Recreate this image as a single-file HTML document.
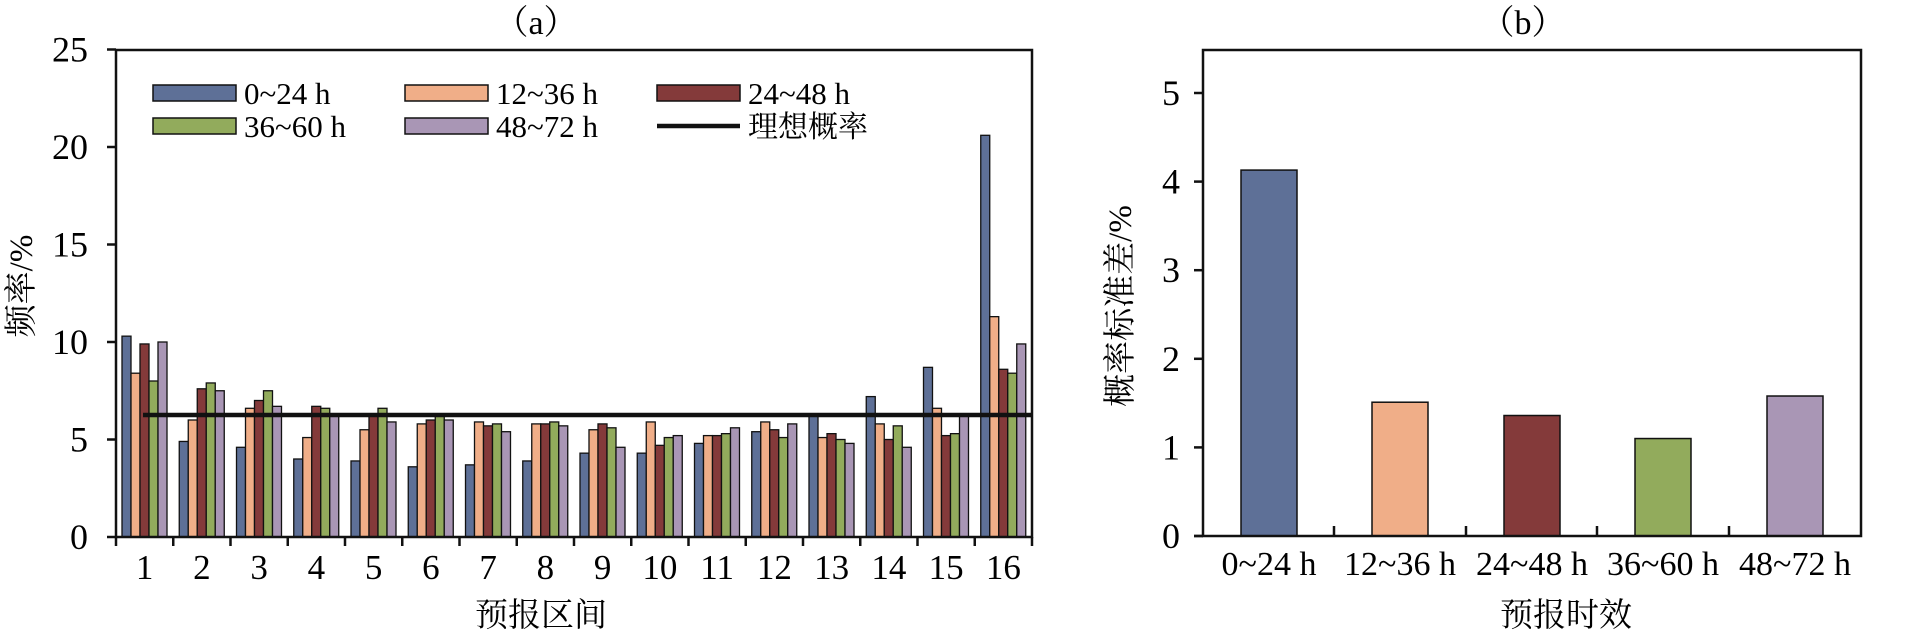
<!DOCTYPE html>
<html><head><meta charset="utf-8"><style>
html,body{margin:0;padding:0;background:#fff;}
svg{display:block;font-family:"Liberation Serif","Noto Serif CJK SC",serif;}
</style></head><body>
<svg width="1907" height="632" viewBox="0 0 1907 632" xmlns="http://www.w3.org/2000/svg">
<g id="a"></g>
<script>
(function(){
var NS="http://www.w3.org/2000/svg";var g=document.getElementById('a');
function el(t,a,txt){var e=document.createElementNS(NS,t);for(var k in a)e.setAttribute(k,a[k]);if(txt!==undefined)e.textContent=txt;g.appendChild(e);return e;}
var C=["#5e7097","#f0ae88","#843a3a","#92ab5c","#a996b5"];
var D=[[10.3,8.4,9.9,8.0,10.0],[4.9,6.0,7.6,7.9,7.5],[4.6,6.6,7.0,7.5,6.7],[4.0,5.1,6.7,6.6,6.3],[3.9,5.5,6.3,6.6,5.9],[3.6,5.8,6.0,6.2,6.0],[3.7,5.9,5.7,5.8,5.4],[3.9,5.8,5.8,5.9,5.7],[4.3,5.5,5.8,5.6,4.6],[4.3,5.9,4.7,5.1,5.2],[4.8,5.2,5.2,5.3,5.6],[5.4,5.9,5.5,5.1,5.8],[6.3,5.1,5.3,5.0,4.8],[7.2,5.8,5.0,5.7,4.6],[8.7,6.6,5.2,5.3,6.2],[20.6,11.3,8.6,8.4,9.9]];
var L=116,R=1032,B=537,T=50,ppu=19.5,gw=(R-L)/16;
for(var i=0;i<16;i++){for(var j=0;j<5;j++){var v=D[i][j];var x=L+i*gw+6+j*9;el('rect',{x:x,y:B-v*ppu,width:9,height:v*ppu,fill:C[j],stroke:'#111','stroke-width':1.3});}}
el('line',{x1:143,y1:415,x2:R,y2:415,stroke:'#111','stroke-width':4.5});
el('rect',{x:L,y:T,width:R-L,height:B-T,fill:'none',stroke:'#111','stroke-width':2.5});
for(var k=0;k<=5;k++){var y=B-k*5*ppu;el('line',{x1:107,y1:y,x2:L,y2:y,stroke:'#111','stroke-width':2.5});el('text',{x:88,y:y+12,'font-size':36,'text-anchor':'end'},String(k*5));}
for(var i=0;i<=16;i++){var x=L+i*gw;el('line',{x1:x,y1:B,x2:x,y2:546,stroke:'#111','stroke-width':2.5});}
for(var i=0;i<16;i++){el('text',{x:L+i*gw+gw/2,y:579,'font-size':35,'text-anchor':'middle'},String(i+1));}
el('text',{x:536,y:34,'font-size':34,'text-anchor':'middle'},'（a）');
el('text',{x:541,y:626,'font-size':33,'text-anchor':'middle'},'预报区间');
el('text',{x:0,y:0,'font-size':33,'text-anchor':'middle',transform:'translate(32,286) rotate(-90)'},'频率/%');
var leg=[[153,85,0,'0~24 h'],[405,85,1,'12~36 h'],[657,85,2,'24~48 h'],[153,118,3,'36~60 h'],[405,118,4,'48~72 h']];
leg.forEach(function(l){el('rect',{x:l[0],y:l[1],width:83,height:16,fill:C[l[2]],stroke:'#111','stroke-width':1.5});el('text',{x:l[0]+91,y:l[1]+19,'font-size':31},l[3]);});
el('line',{x1:657,y1:126,x2:740,y2:126,stroke:'#111','stroke-width':4.5});
el('text',{x:748,y:137,'font-size':30},'理想概率');
var L2=1203,R2=1861,B2=536,p2=88.6;
var V=[4.13,1.51,1.36,1.10,1.58],cx=[1269,1400,1532,1663,1795],lab=['0~24 h','12~36 h','24~48 h','36~60 h','48~72 h'];
for(var i=0;i<5;i++){el('rect',{x:cx[i]-28,y:B2-V[i]*p2,width:56,height:V[i]*p2,fill:C[i],stroke:'#111','stroke-width':1.5});el('text',{x:cx[i],y:575,'font-size':34,'text-anchor':'middle'},lab[i]);}
el('rect',{x:L2,y:T,width:R2-L2,height:B2-T,fill:'none',stroke:'#111','stroke-width':2.5});
el('line',{x1:1194,y1:B2,x2:L2,y2:B2,stroke:'#111','stroke-width':2.5});
for(var k=0;k<=5;k++){var y=B2-k*p2;el('line',{x1:1194,y1:y,x2:L2,y2:y,stroke:'#111','stroke-width':2.5});el('text',{x:1180,y:y+12,'font-size':36,'text-anchor':'end'},String(k));}
[1334,1466,1597,1729].forEach(function(x){el('line',{x1:x,y1:B2,x2:x,y2:B2-10,stroke:'#111','stroke-width':2.5});});
el('text',{x:1523,y:34,'font-size':34,'text-anchor':'middle'},'（b）');
el('text',{x:1566,y:626,'font-size':33,'text-anchor':'middle'},'预报时效');
el('text',{x:0,y:0,'font-size':33,'text-anchor':'middle',transform:'translate(1131,306) rotate(-90)'},'概率标准差/%');
})();
</script>
</svg>
</body></html>
